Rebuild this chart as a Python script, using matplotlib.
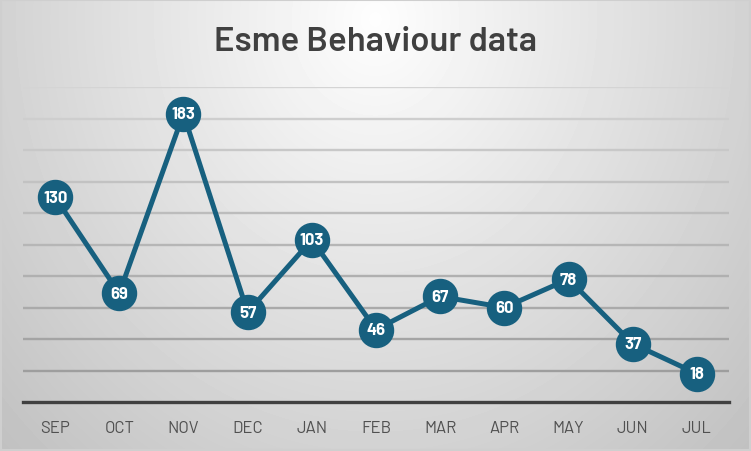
import numpy as np
import matplotlib.pyplot as plt

months = ['SEP', 'OCT', 'NOV', 'DEC', 'JAN', 'FEB', 'MAR', 'APR', 'MAY', 'JUN', 'JUL']
incidents = [130, 69, 183, 57, 103, 46, 67, 60, 78, 37, 18]
grid_levels = [20, 40, 60, 80, 100, 120, 140, 160, 180, 200]

narrow = ['Barlow', 'Barlow Semi Condensed', 'DejaVu Sans']
line_col = '#17607f'

fig = plt.figure(figsize=(7.51, 4.52), dpi=100)

# radial grey background, brightest just under the title
bg = fig.add_axes([0, 0, 1, 1], zorder=-10)
h, w = 452, 751
yy, xx = np.mgrid[0:h, 0:w]
r = np.sqrt(((xx - 375) / 375.0) ** 2 + ((yy - 20) / 430.0) ** 2)
v = 0.995 - 0.17 * np.clip(r, 0, 1.45)
bg.imshow(v, cmap='gray', vmin=0, vmax=1, aspect='auto', interpolation='bilinear')
bg.add_patch(plt.Rectangle((0.5, 0.5), w - 2, h - 2, fill=False, ec='#cfcfcf', lw=1.5))
bg.set_axis_off()

ax = fig.add_axes([0.0306, 0.1084, 0.9401, 0.6969])
ax.patch.set_alpha(0)
x = np.arange(len(months))

for g in grid_levels:
    t = (g - 20) / 180.0
    c = 0.62 + 0.21 * t
    ax.axhline(g, color=(c, c, c), lw=1.7, zorder=1)

ax.plot(x, incidents, color=line_col, lw=3.6, marker='o', ms=24.5,
        mfc=line_col, mec=line_col, zorder=3)
for xi, val in zip(x, incidents):
    ax.text(xi, val, str(val), ha='center', va='center', color='white',
            fontsize=12, fontweight='bold', family=narrow, zorder=4)

ax.set_xlim(-0.5, len(months) - 0.5)
ax.set_ylim(0, 200)
ax.set_yticks([])
ax.set_xticks(x)
ax.set_xticklabels(months, family=narrow, fontsize=12, color='#505050')
ax.tick_params(axis='x', length=0, pad=13)
for s in ['top', 'left', 'right']:
    ax.spines[s].set_visible(False)
ax.spines['bottom'].set_color('#404040')
ax.spines['bottom'].set_linewidth(2.4)

fig.text(0.5, 0.905, 'Esme Behaviour data', ha='center', va='center',
         fontsize=25, fontweight='semibold', family=narrow, color='#404040')

fig.savefig('out.png', dpi=100)
